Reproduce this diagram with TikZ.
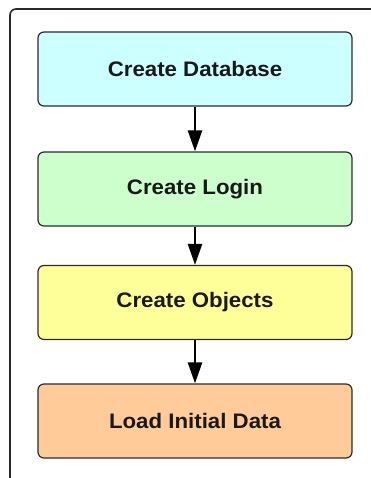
\documentclass[tikz,border=0pt]{standalone}
\usepackage{fontspec}
\setmainfont[FakeStretch=1.06]{Liberation Sans}
\usepackage{xcolor}
\usepackage{tikz}
\usetikzlibrary{arrows.meta}
\definecolor{frame}{HTML}{2A2A2A}
\definecolor{edge}{HTML}{2B2B2B}
\definecolor{cyanbg}{HTML}{CCFFFF}
\definecolor{greenbg}{HTML}{CCFFCC}
\definecolor{yellowbg}{HTML}{FFFF99}
\definecolor{orangebg}{HTML}{FFCC99}
\tikzset{
  outer/.style={draw=frame, line width=1.6pt, rounded corners=6pt},
  stepbox/.style={draw=edge, line width=1.2pt, rounded corners=6pt, minimum width=314pt,
    minimum height=74pt, inner sep=0pt, text=black!90, font=\bfseries\fontsize{21}{25}\selectfont},
  flow/.style={draw=black, line width=2.6pt, -{Triangle[width=14pt,length=21pt]}},
}
\begin{document}
\begin{tikzpicture}[x=1pt,y=-1pt]
  \useasboundingbox (0,0) rectangle (370,478);
  \draw[outer] (10,490) -- (10,9) -- (380,9);

  \node[stepbox, fill=cyanbg]   (db)      at (195,69)    {Create Database};
  \node[stepbox, fill=greenbg]  (login)   at (195,189)   {Create Login};
  \node[stepbox, fill=yellowbg] (objects) at (195,302.5) {Create Objects};
  \node[stepbox, fill=orangebg] (data)    at (195,421)   {Load Initial Data};

  \draw[flow] (db) -- (login);
  \draw[flow] (login) -- (objects);
  \draw[flow] (objects) -- (data);
\end{tikzpicture}
\end{document}
